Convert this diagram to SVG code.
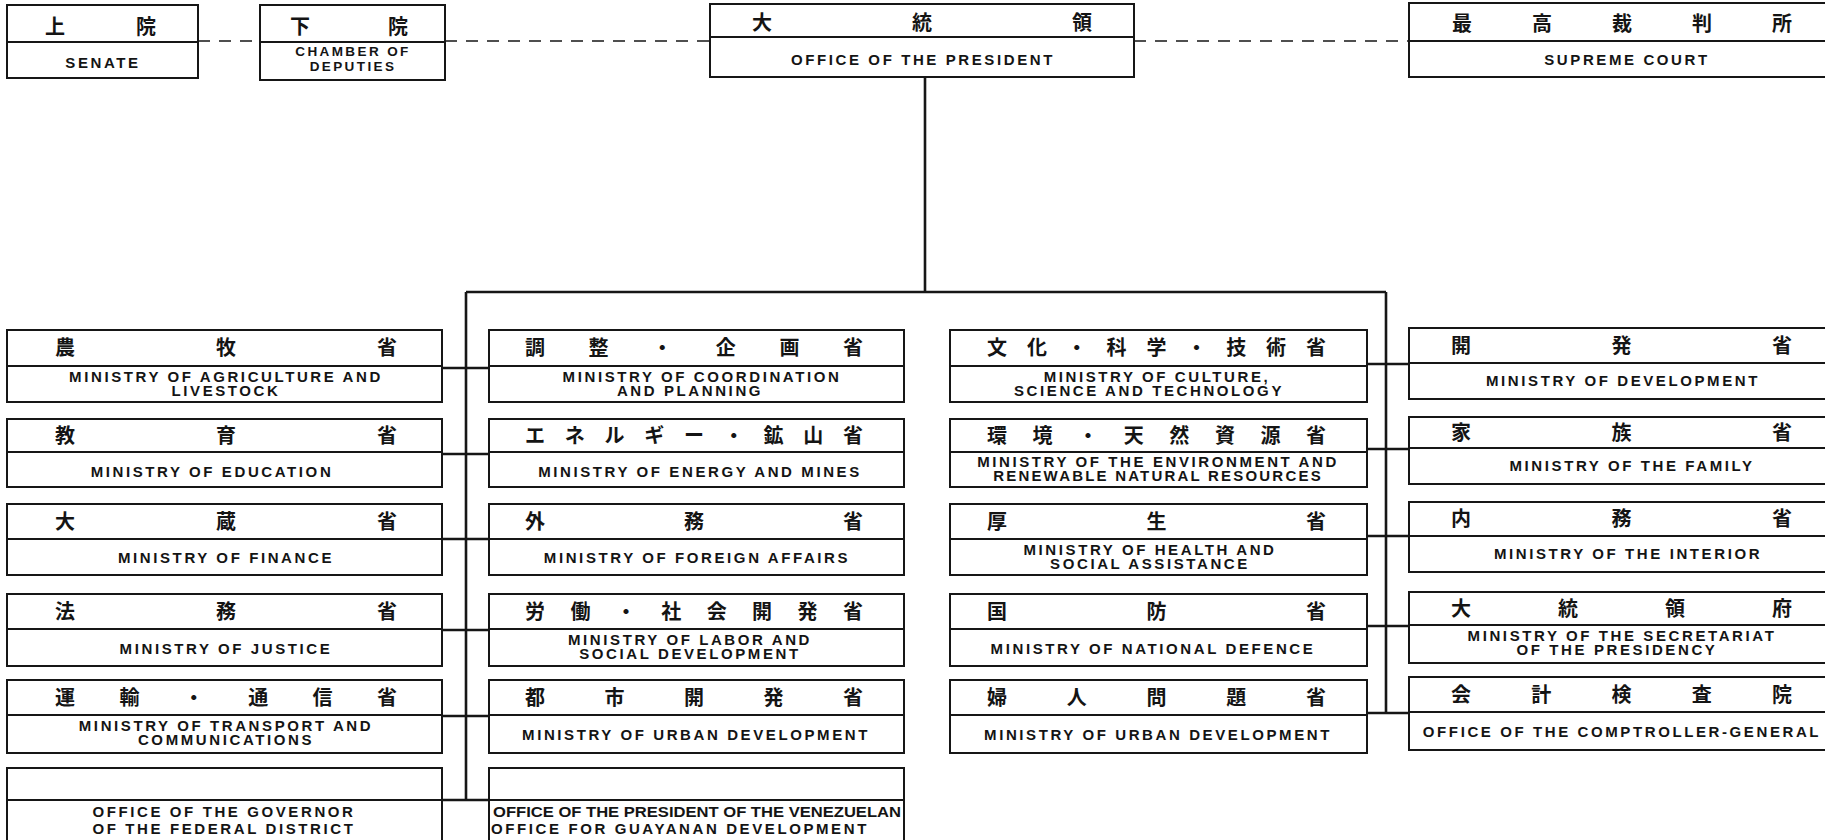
<svg xmlns="http://www.w3.org/2000/svg" width="1825" height="840" viewBox="0 0 1825 840">
<style>
.box{fill:#fff;stroke:#161616;stroke-width:2}
.dv{stroke:#161616;stroke-width:1.8}
.jp{font-family:"Noto Sans CJK JP","Noto Sans CJK SC",sans-serif;font-size:20px;font-weight:bold;text-anchor:middle;fill:#141414}
.en{font-family:"Liberation Sans",Arial,sans-serif;font-size:15px;font-weight:bold;letter-spacing:2.6px;text-anchor:middle;fill:#141414}
.sm{font-size:13.5px;letter-spacing:2.4px}
.conn{stroke:#161616;stroke-width:2.6;fill:none}
.dash{stroke:#161616;stroke-width:1.6;fill:none;stroke-dasharray:12 9}
</style>
<rect x="0" y="0" width="1825" height="840" fill="#fff"/>
<g id="connectors">
<path class="dash" d="M198 41H260M445 41H710M1134 41H1409"/>
<path class="conn" d="M925 77V292M466 292H1386M466 292V800M1386 292V713"/>
<path class="conn" d="M442 368H489M442 454H489M442 539H489M442 630H489M442 716H489M442 800H489"/>
<path class="conn" d="M1367 364H1409M1367 449H1409M1367 536H1409M1367 626H1409M1367 713H1409"/>
</g>
<g id="n-senate"><rect class="box" x="7" y="5" width="191" height="73"/><line class="dv" x1="7" y1="42" x2="198" y2="42"/><text class="jp" y="34"><tspan x="55">上</tspan><tspan x="146">院</tspan></text><text class="en" x="103" y="68">SENATE</text></g>
<g id="n-chamber"><rect class="box" x="260" y="5" width="185" height="75"/><line class="dv" x1="260" y1="42" x2="445" y2="42"/><text class="jp" y="34"><tspan x="300">下</tspan><tspan x="398">院</tspan></text><text class="en sm" x="353" y="56">CHAMBER OF</text><text class="en sm" x="353" y="71">DEPUTIES</text></g>
<g id="n-president"><rect class="box" x="710" y="4" width="424" height="73"/><line class="dv" x1="710" y1="37" x2="1134" y2="37"/><text class="jp" y="30"><tspan x="762">大</tspan><tspan x="922">統</tspan><tspan x="1082">領</tspan></text><text class="en" x="923" y="65">OFFICE OF THE PRESIDENT</text></g>
<g id="n-supreme"><rect class="box" x="1409" y="3" width="440" height="74"/><line class="dv" x1="1409" y1="41" x2="1849" y2="41"/><text class="jp" y="31"><tspan x="1462">最</tspan><tspan x="1542">高</tspan><tspan x="1622">裁</tspan><tspan x="1702">判</tspan><tspan x="1782">所</tspan></text><text class="en" x="1627" y="65">SUPREME COURT</text></g>

<g id="n-agri"><rect class="box" x="7" y="330" width="435" height="72"/><line class="dv" x1="7" y1="366" x2="442" y2="366"/><text class="jp" y="355"><tspan x="65">農</tspan><tspan x="226">牧</tspan><tspan x="387">省</tspan></text><text class="en" x="226" y="382">MINISTRY OF AGRICULTURE AND</text><text class="en" x="226" y="396">LIVESTOCK</text></g>
<g id="n-edu"><rect class="box" x="7" y="419" width="435" height="68"/><line class="dv" x1="7" y1="452" x2="442" y2="452"/><text class="jp" y="442.5"><tspan x="65">教</tspan><tspan x="226">育</tspan><tspan x="387">省</tspan></text><text class="en" x="212" y="477">MINISTRY OF EDUCATION</text></g>
<g id="n-fin"><rect class="box" x="7" y="504" width="435" height="71"/><line class="dv" x1="7" y1="539" x2="442" y2="539"/><text class="jp" y="528.5"><tspan x="65">大</tspan><tspan x="226">蔵</tspan><tspan x="387">省</tspan></text><text class="en" x="226" y="563">MINISTRY OF FINANCE</text></g>
<g id="n-just"><rect class="box" x="7" y="594" width="435" height="72"/><line class="dv" x1="7" y1="629" x2="442" y2="629"/><text class="jp" y="618.5"><tspan x="65">法</tspan><tspan x="226">務</tspan><tspan x="387">省</tspan></text><text class="en" x="226" y="654">MINISTRY OF JUSTICE</text></g>
<g id="n-trans"><rect class="box" x="7" y="680" width="435" height="73"/><line class="dv" x1="7" y1="715" x2="442" y2="715"/><text class="jp" y="704.5"><tspan x="65">運</tspan><tspan x="129.4">輸</tspan><tspan x="193.8">・</tspan><tspan x="258.2">通</tspan><tspan x="322.6">信</tspan><tspan x="387">省</tspan></text><text class="en" x="226" y="731">MINISTRY OF TRANSPORT AND</text><text class="en" x="226" y="745">COMMUNICATIONS</text></g>
<g id="n-gov"><rect class="box" x="7" y="768" width="435" height="92"/><line class="dv" x1="7" y1="800" x2="442" y2="800"/><text class="en" x="224" y="817">OFFICE OF THE GOVERNOR</text><text class="en" x="224" y="834">OF THE FEDERAL DISTRICT</text></g>

<g id="n-coord"><rect class="box" x="489" y="330" width="415" height="72"/><line class="dv" x1="489" y1="366" x2="904" y2="366"/><text class="jp" y="355"><tspan x="535">調</tspan><tspan x="598.6">整</tspan><tspan x="662.2">・</tspan><tspan x="725.8">企</tspan><tspan x="789.4">画</tspan><tspan x="853">省</tspan></text><text class="en" x="702" y="382">MINISTRY OF COORDINATION</text><text class="en" x="690" y="396">AND PLANNING</text></g>
<g id="n-energy"><rect class="box" x="489" y="419" width="415" height="68"/><line class="dv" x1="489" y1="452" x2="904" y2="452"/><text class="jp" y="442.5"><tspan x="535">エ</tspan><tspan x="574.75">ネ</tspan><tspan x="614.5">ル</tspan><tspan x="654.25">ギ</tspan><tspan x="694">ー</tspan><tspan x="733.75">・</tspan><tspan x="773.5">鉱</tspan><tspan x="813.25">山</tspan><tspan x="853">省</tspan></text><text class="en" x="700" y="477">MINISTRY OF ENERGY AND MINES</text></g>
<g id="n-foreign"><rect class="box" x="489" y="504" width="415" height="71"/><line class="dv" x1="489" y1="539" x2="904" y2="539"/><text class="jp" y="528.5"><tspan x="535">外</tspan><tspan x="694">務</tspan><tspan x="853">省</tspan></text><text class="en" x="697" y="563">MINISTRY OF FOREIGN AFFAIRS</text></g>
<g id="n-labor"><rect class="box" x="489" y="594" width="415" height="72"/><line class="dv" x1="489" y1="629" x2="904" y2="629"/><text class="jp" y="618.5"><tspan x="535">労</tspan><tspan x="580.4">働</tspan><tspan x="625.9">・</tspan><tspan x="671.3">社</tspan><tspan x="716.7">会</tspan><tspan x="762.1">開</tspan><tspan x="807.6">発</tspan><tspan x="853">省</tspan></text><text class="en" x="690" y="645">MINISTRY OF LABOR AND</text><text class="en" x="690" y="659">SOCIAL DEVELOPMENT</text></g>
<g id="n-urban1"><rect class="box" x="489" y="680" width="415" height="73"/><line class="dv" x1="489" y1="715" x2="904" y2="715"/><text class="jp" y="704.5"><tspan x="535">都</tspan><tspan x="614.5">市</tspan><tspan x="694">開</tspan><tspan x="773.5">発</tspan><tspan x="853">省</tspan></text><text class="en" x="696" y="740">MINISTRY OF URBAN DEVELOPMENT</text></g>
<g id="n-guayana"><rect class="box" x="489" y="768" width="415" height="92"/><line class="dv" x1="489" y1="800" x2="904" y2="800"/><text class="en" x="697" y="817" style="letter-spacing:0" textLength="408" lengthAdjust="spacingAndGlyphs">OFFICE OF THE PRESIDENT OF THE VENEZUELAN</text><text class="en" x="680" y="834">OFFICE FOR GUAYANAN DEVELOPMENT</text></g>

<g id="n-culture"><rect class="box" x="950" y="330" width="417" height="72"/><line class="dv" x1="950" y1="366" x2="1367" y2="366"/><text class="jp" y="355"><tspan x="997">文</tspan><tspan x="1036.9">化</tspan><tspan x="1076.8">・</tspan><tspan x="1116.6">科</tspan><tspan x="1156.5">学</tspan><tspan x="1196.4">・</tspan><tspan x="1236.3">技</tspan><tspan x="1276.1">術</tspan><tspan x="1316">省</tspan></text><text class="en" x="1157" y="382">MINISTRY OF CULTURE,</text><text class="en" x="1149" y="396">SCIENCE AND TECHNOLOGY</text></g>
<g id="n-env"><rect class="box" x="950" y="419" width="417" height="68"/><line class="dv" x1="950" y1="452" x2="1367" y2="452"/><text class="jp" y="442.5"><tspan x="997">環</tspan><tspan x="1042.6">境</tspan><tspan x="1088.1">・</tspan><tspan x="1133.7">天</tspan><tspan x="1179.3">然</tspan><tspan x="1224.9">資</tspan><tspan x="1270.4">源</tspan><tspan x="1316">省</tspan></text><text class="en" x="1158" y="467">MINISTRY OF THE ENVIRONMENT AND</text><text class="en" x="1158" y="481" style="letter-spacing:2.2px">RENEWABLE NATURAL RESOURCES</text></g>
<g id="n-health"><rect class="box" x="950" y="504" width="417" height="71"/><line class="dv" x1="950" y1="539" x2="1367" y2="539"/><text class="jp" y="528.5"><tspan x="997">厚</tspan><tspan x="1156.5">生</tspan><tspan x="1316">省</tspan></text><text class="en" x="1150" y="555">MINISTRY OF HEALTH AND</text><text class="en" x="1150" y="569">SOCIAL ASSISTANCE</text></g>
<g id="n-defence"><rect class="box" x="950" y="594" width="417" height="72"/><line class="dv" x1="950" y1="629" x2="1367" y2="629"/><text class="jp" y="618.5"><tspan x="997">国</tspan><tspan x="1156.5">防</tspan><tspan x="1316">省</tspan></text><text class="en" x="1153" y="654">MINISTRY OF NATIONAL DEFENCE</text></g>
<g id="n-women"><rect class="box" x="950" y="680" width="417" height="73"/><line class="dv" x1="950" y1="715" x2="1367" y2="715"/><text class="jp" y="704.5"><tspan x="997">婦</tspan><tspan x="1076.75">人</tspan><tspan x="1156.5">問</tspan><tspan x="1236.25">題</tspan><tspan x="1316">省</tspan></text><text class="en" x="1158" y="740">MINISTRY OF URBAN DEVELOPMENT</text></g>

<g id="n-dev"><rect class="box" x="1409" y="328" width="440" height="71"/><line class="dv" x1="1409" y1="363" x2="1849" y2="363"/><text class="jp" y="353"><tspan x="1461">開</tspan><tspan x="1621.5">発</tspan><tspan x="1782">省</tspan></text><text class="en" x="1623" y="386">MINISTRY OF DEVELOPMENT</text></g>
<g id="n-family"><rect class="box" x="1409" y="417" width="440" height="67"/><line class="dv" x1="1409" y1="448" x2="1849" y2="448"/><text class="jp" y="440"><tspan x="1461">家</tspan><tspan x="1621.5">族</tspan><tspan x="1782">省</tspan></text><text class="en" x="1632" y="471">MINISTRY OF THE FAMILY</text></g>
<g id="n-interior"><rect class="box" x="1409" y="502" width="440" height="70"/><line class="dv" x1="1409" y1="536" x2="1849" y2="536"/><text class="jp" y="526"><tspan x="1461">内</tspan><tspan x="1621.5">務</tspan><tspan x="1782">省</tspan></text><text class="en" x="1628" y="559">MINISTRY OF THE INTERIOR</text></g>
<g id="n-secret"><rect class="box" x="1409" y="592" width="440" height="71"/><line class="dv" x1="1409" y1="625" x2="1849" y2="625"/><text class="jp" y="616"><tspan x="1461">大</tspan><tspan x="1568">統</tspan><tspan x="1675">領</tspan><tspan x="1782">府</tspan></text><text class="en" x="1622" y="641">MINISTRY OF THE SECRETARIAT</text><text class="en" x="1617" y="655">OF THE PRESIDENCY</text></g>
<g id="n-comptroller"><rect class="box" x="1409" y="677" width="440" height="73"/><line class="dv" x1="1409" y1="712" x2="1849" y2="712"/><text class="jp" y="702"><tspan x="1461">会</tspan><tspan x="1541.25">計</tspan><tspan x="1621.5">検</tspan><tspan x="1701.75">査</tspan><tspan x="1782">院</tspan></text><text class="en" x="1622" y="737">OFFICE OF THE COMPTROLLER-GENERAL</text></g>
</svg>
